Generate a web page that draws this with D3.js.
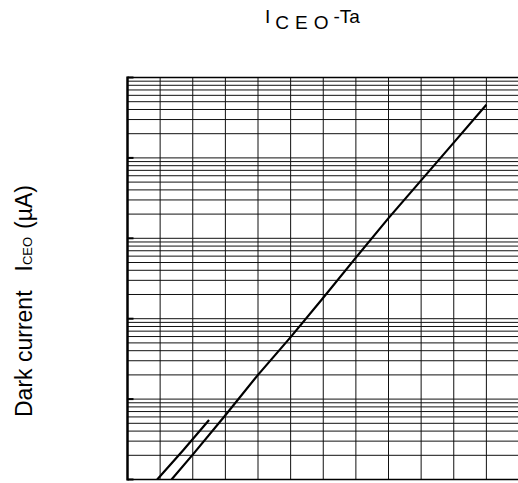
<!DOCTYPE html>
<html>
<head>
<meta charset="utf-8">
<script src="https://cdn.jsdelivr.net/npm/d3@7/dist/d3.min.js"></script>
<style>
  html, body { margin: 0; padding: 0; background: #fff; }
  svg { display: block; }
  text { font-family: "Liberation Sans", Arial, sans-serif; fill: #000; }
</style>
</head>
<body>
<svg id="chart" width="518" height="483"></svg>
<script>
// Ambient temperature (°C) and dark current ICEO (µA)
const taMain = [-6.5, 0, 10, 20, 30, 40, 50, 60, 70, 80, 90];
const iceoMain = [1.0e-4, 2.04e-4, 6.3e-4, 2.0e-3, 5.9e-3, 1.82e-2, 5.75e-2, 0.178, 0.525, 1.55, 4.57];
const taAlt = [-10.9, -3, 5];
const iceoAlt = [1.0e-4, 2.3e-4, 5.5e-4];
const taTicks = [-20, -10, 0, 10, 20, 30, 40, 50, 60, 70, 80, 90, 100];

const svg = d3.select("#chart");
const pLeft = 127.5, pRight = 519, pTop = 77.5, pBottom = 479.5;

const x = d3.scaleLinear().domain([-20, 100]).range([pLeft, pRight]);
const y = d3.scaleLog().domain([1e-4, 10]).range([pBottom, pTop]);

// clip for the plot area
svg.append("clipPath").attr("id", "plot")
  .append("rect").attr("x", pLeft).attr("y", pTop)
  .attr("width", pRight - pLeft).attr("height", pBottom - pTop);

const grid = svg.append("g").attr("stroke", "#111").attr("stroke-width", 1);

// horizontal log grid (1..9 in every decade)
grid.selectAll("line.h").data(y.ticks()).join("line")
  .attr("class", "h")
  .attr("x1", pLeft).attr("x2", pRight)
  .attr("y1", d => y(d)).attr("y2", d => y(d));

// vertical grid every 10 °C
grid.selectAll("line.v").data(taTicks).join("line")
  .attr("class", "v")
  .attr("x1", d => x(d)).attr("x2", d => x(d))
  .attr("y1", pTop).attr("y2", pBottom);

// decade ticks on the left axis
const decades = y.ticks().filter(d => Math.abs(Math.log10(d) - Math.round(Math.log10(d))) < 1e-9);
svg.append("g").selectAll("line").data(decades).join("line")
  .attr("x1", pLeft).attr("x2", pLeft + 6)
  .attr("y1", d => y(d)).attr("y2", d => y(d))
  .attr("stroke", "#000").attr("stroke-width", 2);

// frame
svg.append("line").attr("x1", pLeft).attr("x2", pLeft).attr("y1", pTop - 1).attr("y2", pBottom + 1)
  .attr("stroke", "#000").attr("stroke-width", 2.5);
svg.append("line").attr("x1", pLeft).attr("x2", pRight).attr("y1", pTop).attr("y2", pTop)
  .attr("stroke", "#000").attr("stroke-width", 1.6);
svg.append("line").attr("x1", pLeft).attr("x2", pRight).attr("y1", pBottom).attr("y2", pBottom)
  .attr("stroke", "#000").attr("stroke-width", 1.6);

// characteristic curves
const line = d3.line().x(d => x(d[0])).y(d => y(d[1]));
const curves = svg.append("g").attr("clip-path", "url(#plot)")
  .attr("fill", "none").attr("stroke", "#000").attr("stroke-width", 2.2);
curves.append("path").attr("d", line(d3.zip(taMain, iceoMain)));
curves.append("path").attr("d", line(d3.zip(taAlt, iceoAlt)));

// title
const title = svg.append("text").attr("x", 265).attr("y", 23).attr("font-size", 19);
title.append("tspan").text("I");
title.append("tspan").attr("dy", 6).attr("dx", 5).attr("letter-spacing", 6).text("CEO");
title.append("tspan").attr("dy", -6).attr("dx", -1).text("-Ta");

// y-axis label
const yl = svg.append("text").attr("transform", "translate(32,417) rotate(-90)").attr("font-size", 23);
yl.append("tspan").text("Dark current");
yl.append("tspan").attr("dx", 19).text("I");
yl.append("tspan").attr("font-size", 13).text("CEO");
yl.append("tspan").attr("dx", 8).text("(µA)");
</script>
</body>
</html>
